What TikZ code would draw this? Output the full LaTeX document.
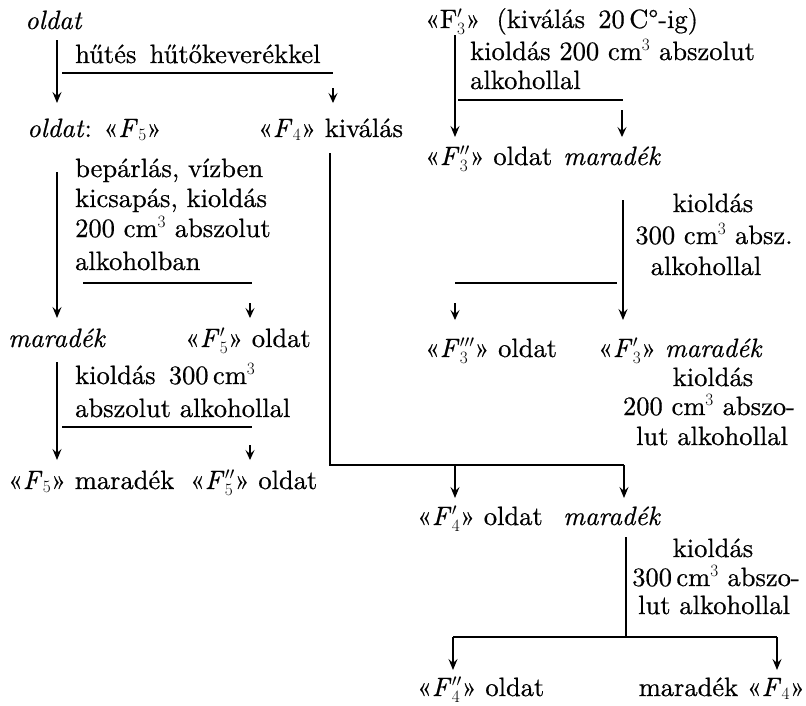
\documentclass[tikz,border=0pt]{standalone}
\usepackage{fontspec}
\setmainfont{lmroman10-regular.otf}[
  ItalicFont=lmroman10-italic.otf,
  BoldFont=lmroman10-bold.otf,
  BoldItalicFont=lmroman10-bolditalic.otf,
  FakeBold=0.6]
\usetikzlibrary{arrows.meta}

% fraction symbols: italic F with indices
\newcommand{\Fx}[2]{\textit{F}\kern0.5pt$#1_{#2}$}

\tikzset{
  txt/.style={anchor=base west, inner sep=0pt, font=\fontsize{26.5}{30}\selectfont},
  ctxt/.style={anchor=base, inner sep=0pt, font=\fontsize{26.5}{30}\selectfont},
  rtxt/.style={anchor=base east, inner sep=0pt, font=\fontsize{26.5}{30}\selectfont},
  flow/.style={line width=1.3pt, -{Stealth[length=11pt,width=9pt,inset=4pt]}},
  stub/.style={line width=1.1pt, -{Stealth[length=10pt,width=9pt,inset=4pt]}},
  rule/.style={line width=1.1pt},
  trunk/.style={line width=1.2pt},
}

\begin{document}
\begin{tikzpicture}[x=1pt,y=-1pt]
\useasboundingbox (0,0) rectangle (806,705);

% ---------- left branch ----------
\node[txt] (oldat) at (25,29) {\textit{oldat}};
\node[txt] (hut) at (75,63) {hűtés\, hűtőkeverékkel};
\node[txt] (oldatF5) at (27,137) {\textit{oldat}: «\Fx{}{5}»};
\node[txt] (F4kiv) at (258,137) {«\Fx{}{4}» kiválás};

\node[txt] (b1) at (75,177) {bepárlás, vízben};
\node[txt] (b2) at (75,207) {kicsapás, kioldás};
\node[txt] (b3) at (75,237) {200 cm$^3$ abszolut};
\node[txt] (b4) at (75,270) {alkoholban};

\node[txt] (mar1) at (8,347) {\textit{maradék}};
\node[txt] (F5p) at (185,347) {«\Fx{'}{5}» oldat};

\node[txt] (c1) at (75,384) {kioldás\, 300\,cm$^3$};
\node[txt] (c2) at (75,417) {abszolut alkohollal};

\node[txt] (F5mar) at (8,489) {«\Fx{}{5}» maradék};
\node[txt] (F5pp) at (190,489) {«\Fx{''}{5}» oldat};

% ---------- right branch, top ----------
\node[txt] (F3p) at (425,28) {«F$'_3$»\; (kiválás\, 20\,C°-ig)};
\node[txt] (d1) at (470,60) {kioldás 200 cm$^3$ abszolut};
\node[txt] (d2) at (470,89) {alkohollal};

\node[txt] (F3pp) at (425,165) {«\Fx{''}{3}» oldat};
\node[txt] (mar2) at (563,165) {\textit{maradék}};

\node[ctxt] (e1) at (713,212) {kioldás};
\node[ctxt] (e2) at (714,244) {300 cm$^3$ absz.};
\node[ctxt] (e3) at (706,275) {alkohollal};

\node[txt] (F3ppp) at (425,357) {«\Fx{'''}{3}» oldat};
\node[txt] (F3mar) at (598,357) {«\Fx{'}{3}» \textit{maradék}};

\node[ctxt] (f1) at (713,386) {kioldás};
\node[ctxt] (f2) at (709,415) {200 cm$^3$ abszo-};
\node[ctxt] (f3) at (712,445) {lut alkohollal};

% ---------- right branch, bottom ----------
\node[txt] (F4p) at (417,525) {«\Fx{'}{4}» oldat};
\node[txt] (mar3) at (563,525) {\textit{maradék}};

\node[ctxt] (g1) at (713,557) {kioldás};
\node[ctxt] (g2) at (716,586) {300\,cm$^3$ abszo-};
\node[ctxt] (g3) at (714,614) {lut alkohollal};

\node[txt] (F4pp) at (417,696) {«\Fx{''}{4}» oldat};
\node[rtxt] (F4mar) at (805,696) {maradék «\Fx{}{4}»};

% ---------- connector end points ----------
\coordinate (p1a) at (57,40);   \coordinate (p1b) at (57,103);
\coordinate (u1a) at (62,73);   \coordinate (u1b) at (333,73);
\coordinate (s1a) at (333,88);  \coordinate (s1b) at (333,103);

\coordinate (p2a) at (57,172);  \coordinate (p2b) at (57,318);
\coordinate (u2a) at (83,283);  \coordinate (u2b) at (252,283);
\coordinate (s2a) at (250,303); \coordinate (s2b) at (250,318);

\coordinate (p3a) at (57,362);  \coordinate (p3b) at (57,460);
\coordinate (u3a) at (62,427);  \coordinate (u3b) at (252,427);
\coordinate (s3a) at (250,445); \coordinate (s3b) at (250,460);

\coordinate (t4a) at (330,153); \coordinate (t4b) at (330,465);
\coordinate (t4c) at (624,465);
\coordinate (q4a) at (455,465); \coordinate (q4b) at (455,498);
\coordinate (q4d) at (624,498);

\coordinate (t5a) at (626,537); \coordinate (t5b) at (626,637);
\coordinate (h5a) at (453,637); \coordinate (h5b) at (777,637);
\coordinate (q5a) at (453,670); \coordinate (q5b) at (777,670);

\coordinate (p6a) at (455,35);  \coordinate (p6b) at (455,137);
\coordinate (u6a) at (458,100); \coordinate (u6b) at (623,100);
\coordinate (s6a) at (622,110); \coordinate (s6b) at (622,137);

\coordinate (p7a) at (623,200); \coordinate (p7b) at (623,320);
\coordinate (h7a) at (455,283); \coordinate (h7b) at (617,283);
\coordinate (s7a) at (455,303); \coordinate (s7b) at (455,320);

% ---------- connectors ----------
\draw[flow] (p1a) -- (p1b);
\draw[rule] (u1a) -- (u1b);
\draw[stub] (s1a) -- (s1b);

\draw[flow] (p2a) -- (p2b);
\draw[rule] (u2a) -- (u2b);
\draw[stub] (s2a) -- (s2b);

\draw[flow] (p3a) -- (p3b);
\draw[rule] (u3a) -- (u3b);
\draw[stub] (s3a) -- (s3b);

\draw[trunk] (t4a) -- (t4b) -- (t4c);
\draw[flow] (q4a) -- (q4b);
\draw[flow] (t4c) -- (q4d);

\draw[trunk] (t5a) -- (t5b);
\draw[rule] (h5a) -- (h5b);
\draw[flow] (h5a) -- (q5a);
\draw[flow] (h5b) -- (q5b);

\draw[flow] (p6a) -- (p6b);
\draw[rule] (u6a) -- (u6b);
\draw[stub] (s6a) -- (s6b);

\draw[flow] (p7a) -- (p7b);
\draw[rule] (h7a) -- (h7b);
\draw[stub] (s7a) -- (s7b);
\end{tikzpicture}
\end{document}
